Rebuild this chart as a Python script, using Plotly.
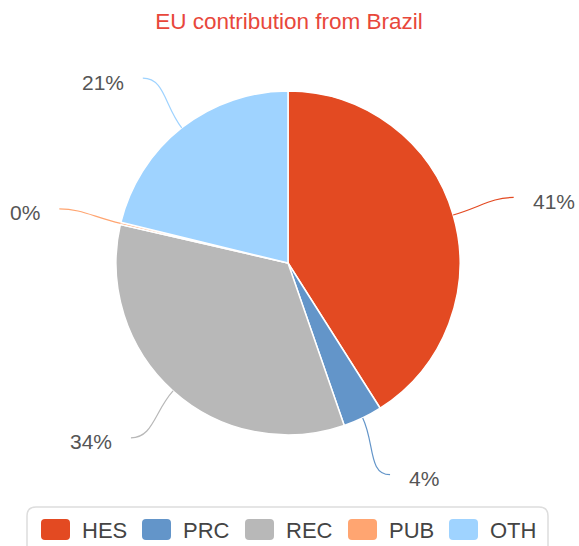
import math
import plotly.graph_objects as go

# ---- data ----
categories = ["HES", "PRC", "REC", "PUB", "OTH"]
values = [41.0, 3.7, 33.9, 0.2, 21.2]
colors = ["#e34a22", "#6395c9", "#b8b8b8", "#ffa571", "#9fd3ff"]
title_text = "EU contribution from Brazil"

# ---- layout constants (pixels) ----
W, H = 579, 546
CX, CY, R = 288, 263, 172
LABEL_R = 235
FONT = "Liberation Sans, Arial, sans-serif"


def px(x):
    return x / W


def py(y):
    return 1 - y / H


fig = go.Figure()
fig.add_trace(go.Pie(
    labels=categories,
    values=values,
    marker=dict(colors=colors, line=dict(color="white", width=1.5)),
    sort=False,
    direction="clockwise",
    rotation=0,
    textinfo="none",
    hoverinfo="label+percent",
    showlegend=False,
    domain=dict(x=[px(CX - R), px(CX + R)], y=[py(CY + R), py(CY - R)]),
))

total = sum(values)
shapes = []
annotations = []
cum = 0.0
for cat, v, col in zip(categories, values, colors):
    mid = (cum + v / 2) / total * 2 * math.pi
    cum += v
    s, c = math.sin(mid), math.cos(mid)
    side = 1 if s >= 0 else -1
    ex, ey = CX + R * s, CY - R * c
    ax, ay = CX + LABEL_R * s, CY - LABEL_R * c
    c1x, c1y = CX + (R + 28) * s, CY - (R + 28) * c
    c2x, c2y = ax - side * 22, ay
    path = (f"M {px(ex)} {py(ey)} C {px(c1x)} {py(c1y)} "
            f"{px(c2x)} {py(c2y)} {px(ax)} {py(ay)}")
    shapes.append(dict(type="path", path=path, xref="paper", yref="paper",
                       line=dict(color=col, width=1.2)))
    pct = round(v / total * 100)
    annotations.append(dict(
        text=f"{pct}%", xref="paper", yref="paper",
        x=px(ax + side * 17), y=py(ay + 4),
        xanchor="left" if side > 0 else "right", yanchor="middle",
        showarrow=False, font=dict(family=FONT, size=21, color="#555555")))


def rrect(x0, y0, x1, y1, r):
    return (f"M {px(x0 + r)} {py(y0)} L {px(x1 - r)} {py(y0)} "
            f"Q {px(x1)} {py(y0)} {px(x1)} {py(y0 + r)} "
            f"L {px(x1)} {py(y1 - r)} Q {px(x1)} {py(y1)} {px(x1 - r)} {py(y1)} "
            f"L {px(x0 + r)} {py(y1)} Q {px(x0)} {py(y1)} {px(x0)} {py(y1 - r)} "
            f"L {px(x0)} {py(y0 + r)} Q {px(x0)} {py(y0)} {px(x0 + r)} {py(y0)} Z")


# legend box
shapes.append(dict(type="path", path=rrect(27, 507, 548, 570, 9),
                   xref="paper", yref="paper",
                   line=dict(color="#dddddd", width=1.5), fillcolor="rgba(0,0,0,0)"))
legend_x = [41, 142, 245, 348, 449]
for cat, col, lx in zip(categories, colors, legend_x):
    shapes.append(dict(type="path", path=rrect(lx, 519, lx + 29, 540, 4),
                       xref="paper", yref="paper",
                       line=dict(width=0), fillcolor=col))
    annotations.append(dict(
        text=cat, xref="paper", yref="paper", x=px(lx + 39), y=py(530),
        xanchor="left", yanchor="middle", showarrow=False,
        font=dict(family=FONT, size=22, color="#444444")))

fig.update_layout(
    width=W, height=H,
    margin=dict(l=0, r=0, t=0, b=0),
    paper_bgcolor="white", plot_bgcolor="white",
    title=dict(text=title_text, x=px(289), xanchor="center",
               y=py(21), yanchor="middle",
               font=dict(family=FONT, size=22.5, color="#e8473b")),
    shapes=shapes,
    annotations=annotations,
    showlegend=False,
)

fig.write_html(
    "out.html",
    config={"displayModeBar": False},
    post_script="document.body.style.margin='0';document.body.style.overflow='hidden';",
)
